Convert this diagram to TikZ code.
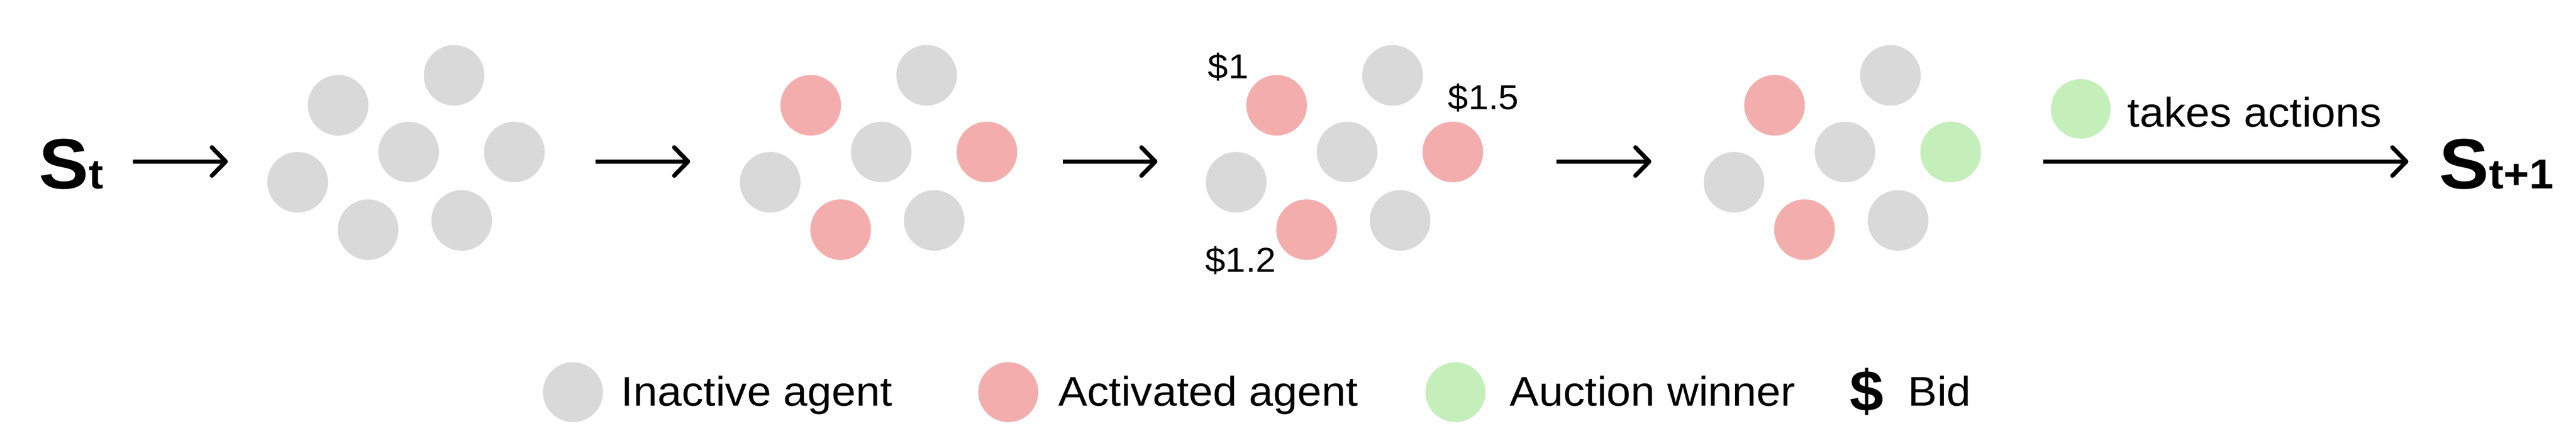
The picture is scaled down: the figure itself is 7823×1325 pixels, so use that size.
\documentclass[tikz,border=0pt]{standalone}
\usepackage{fontspec}
\setmainfont{Liberation Sans}[FakeStretch=1.05]
\usetikzlibrary{arrows.meta}
\definecolor{inact}{HTML}{D9D9D9}
\definecolor{activ}{HTML}{F4ADAD}
\definecolor{winr}{HTML}{C4EFBA}
\newcommand{\zzleg}{\fontsize{35.8pt}{40pt}\selectfont}
\newcommand{\zzbid}{\fontsize{29.9pt}{34pt}\selectfont}
\newcommand{\zzbig}{\fontsize{61.5pt}{70pt}\selectfont\bfseries}
\newcommand{\zzsub}{\fontsize{36.1pt}{40pt}\selectfont\bfseries}
\begin{document}
\begin{tikzpicture}[x=0.01cm,y=-0.01cm,
  agent/.style={circle,inner sep=0pt,minimum size=1.84cm,draw=none},
  flow/.style={line width=0.13cm,-{Straight Barb[length=0.42cm,width=0.86cm,round]}},
  lbl/.style={inner sep=0pt,anchor=base west},
  legtext/.style={lbl,font=\zzleg},
  bidtext/.style={lbl,font=\zzbid}]
\useasboundingbox (0,0) rectangle (7823,1325);

% states
\node[lbl] (st) at (118,574) {\zzbig S\zzsub t};
\node[lbl] (st1) at (7407,573) {\zzbig S\zzsub t+1};

% agent groups
\foreach \g/\x/\ca/\cd/\cf in {1/1027/inact/inact/inact, 2/2462/activ/activ/activ, 3/3877/activ/activ/activ, 4/5389/activ/winr/activ} {
  \node[agent,fill=\ca] (g\g a) at (\x,320) {};
  \node[agent,fill=inact] (g\g b) at (\x+352,229) {};
  \node[agent,fill=inact] (g\g c) at (\x+214,462) {};
  \node[agent,fill=\cd] (g\g d) at (\x+535,462) {};
  \node[agent,fill=inact] (g\g e) at (\x-123,554) {};
  \node[agent,fill=\cf] (g\g f) at (\x+91,698) {};
  \node[agent,fill=inact] (g\g g) at (\x+375,670) {};
}

% bids
\node[bidtext] (b1) at (3668,239) {\$1};
\node[bidtext] (b2) at (4397,332) {\$1.5};
\node[bidtext] (b3) at (3660,827) {\$1.2};

% arrows
\coordinate (a1s) at (404,491); \coordinate (a1e) at (692,491);
\coordinate (a2s) at (1809,491); \coordinate (a2e) at (2096,491);
\coordinate (a3s) at (3227,491); \coordinate (a3e) at (3515,491);
\coordinate (a4s) at (4727,491); \coordinate (a4e) at (5015,491);
\coordinate (a5s) at (6205,491); \coordinate (a5e) at (7314,491);
\draw[flow] (a1s) -- (a1e);
\draw[flow] (a2s) -- (a2e);
\draw[flow] (a3s) -- (a3e);
\draw[flow] (a4s) -- (a4e);
\draw[flow] (a5s) -- (a5e);

% takes actions
\node[agent,fill=winr,minimum size=1.81cm] (ta) at (6319,331) {};
\node[legtext] (tat) at (6461,385) {takes actions};

% legend
\node[agent,fill=inact,minimum size=1.82cm] (l1) at (1740,1192) {};
\node[legtext] (l1t) at (1886,1234) {Inactive agent};
\node[agent,fill=activ,minimum size=1.82cm] (l2) at (3062,1192) {};
\node[legtext] (l2t) at (3213,1234) {Activated agent};
\node[agent,fill=winr,minimum size=1.82cm] (l3) at (4420,1192) {};
\node[legtext] (l3t) at (4585,1234) {Auction winner};
\node[lbl,font=\fontsize{50pt}{56pt}\selectfont\bfseries] (l4) at (5617,1250) {\$};
\node[legtext] (l4t) at (5794,1234) {Bid};
\end{tikzpicture}
\end{document}
